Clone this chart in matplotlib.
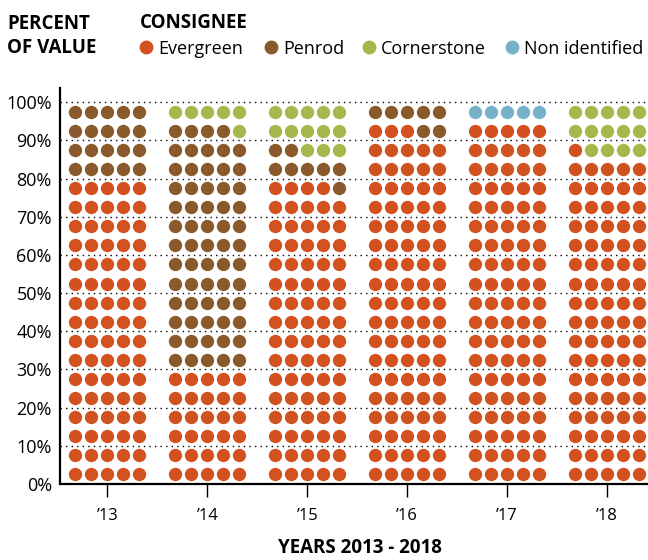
import matplotlib.pyplot as plt
import numpy as np

plt.rcParams['font.family'] = ['Open Sans', 'DejaVu Sans']

# data: percent of value per consignee, one dot = 1%
years = ['\u201913', '\u201914', '\u201915', '\u201916', '\u201917', '\u201918']
categories = ['Evergreen', 'Penrod', 'Cornerstone', 'Non identified']
evergreen = [80, 30, 79, 93, 95, 86]
penrod = [20, 64, 8, 7, 0, 0]
cornerstone = [0, 6, 13, 0, 0, 14]
non_identified = [0, 0, 0, 0, 5, 0]
colors = ['#D2521F', '#8B5A2C', '#A6B84B', '#77B1C8']

W, H = 648, 560
fig = plt.figure(figsize=(W / 100, H / 100), dpi=100)

# axes box in pixels: left 59.5, right 648, bottom 484, top 88
ax = fig.add_axes([59.5 / W, 1 - 484 / H, (648 - 59.5) / W, (484 - 88) / H])
ax.set_xlim(-0.478, 5.41)
ax.set_ylim(0, 103.7)

series = [evergreen, penrod, cornerstone, non_identified]
ncols = 5
for j in range(len(years)):
    cats = []
    for c, s in enumerate(series):
        cats += [c] * s[j]
    for c in range(len(categories)):
        idx = np.array([k for k, cc in enumerate(cats) if cc == c])
        if len(idx) == 0:
            continue
        xs = j + (idx % ncols - 2) * 0.16
        ys = (idx // ncols) * 5 + 2.5
        ax.scatter(xs, ys, s=92, color=colors[c], linewidths=0, zorder=3)

# dotted grid lines
for v in range(10, 101, 10):
    ax.axhline(v, color='black', lw=1.0, ls=(0, (1, 3)), zorder=1, clip_on=False)

for side in ['top', 'right']:
    ax.spines[side].set_visible(False)
ax.spines['left'].set_linewidth(1.6)
ax.spines['bottom'].set_linewidth(1.6)

ax.set_yticks(range(0, 101, 10))
ax.set_yticklabels([f'{v}%' for v in range(0, 101, 10)], fontsize=13)
ax.tick_params(axis='y', length=0, pad=5.5)
ax.set_xticks(range(len(years)))
ax.set_xticklabels(years, fontsize=12)
ax.tick_params(axis='x', length=9, width=1.0, pad=8.5)

fig.text(360 / W, 1 - 553 / H, 'YEARS 2013 - 2018', fontsize=13.5, fontweight='bold',
         ha='center', va='baseline')

# header and legend
fig.text(7 / W, 1 - 29 / H, 'PERCENT', fontsize=13.5, fontweight='bold', va='baseline')
fig.text(7 / W, 1 - 53 / H, 'OF VALUE', fontsize=13.5, fontweight='bold', va='baseline')
fig.text(140 / W, 1 - 28 / H, 'CONSIGNEE', fontsize=13.5, fontweight='bold', va='baseline')

lax = fig.add_axes([0, 0, 1, 1])
lax.set_xlim(0, W)
lax.set_ylim(H, 0)
lax.axis('off')
legend_x = [146, 271, 369, 512]
for c, name in enumerate(categories):
    lax.scatter(legend_x[c], 46.7, s=100, color=colors[c], linewidths=0)
    lax.text(legend_x[c] + 12, 54, name, fontsize=13, va='baseline')

fig.savefig('out.png', dpi=100)
